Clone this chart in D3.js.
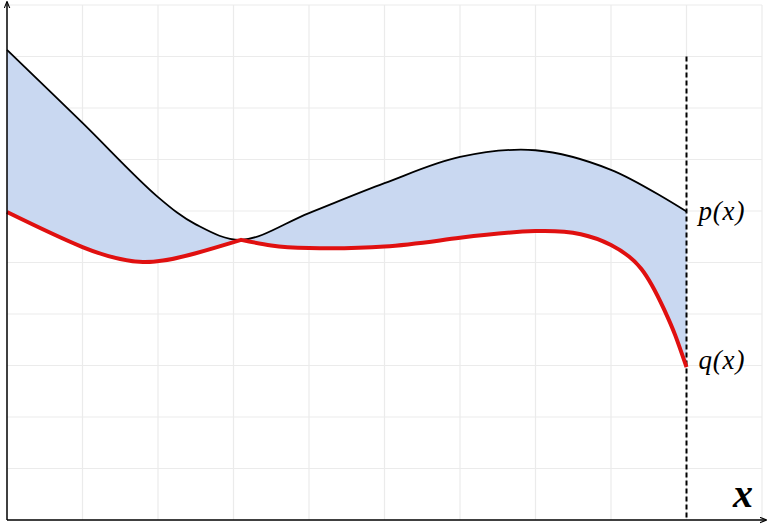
<!DOCTYPE html>
<html>
<head>
<meta charset="utf-8">
<script src="https://cdn.jsdelivr.net/npm/d3@7"></script>
<style>
html,body{margin:0;padding:0;background:#fff;}
svg{display:block;}
</style>
</head>
<body>
<svg id="chart" width="768" height="528"></svg>
<script>
// upper curve p(x): x positions and values (grid units)
const pX      = [0, 1, 2, 2.5, 3.1, 4, 5, 6, 7, 8, 9];
const pValues = [9.13, 7.71, 6.27, 5.74, 5.44, 5.96, 6.54, 7.05, 7.18, 6.80, 5.99];
// lower curve q(x), left piece (up to the crossing) and right piece
const qXLeft      = [0, 1, 1.8, 2.5, 3.1];
const qValuesLeft = [5.98, 5.30, 5.01, 5.18, 5.44];
const qXRight      = [3.1, 3.5, 4, 5, 6, 7, 7.6, 8, 8.4, 8.7, 8.85, 9];
const qValuesRight = [5.44, 5.33, 5.28, 5.31, 5.48, 5.61, 5.55, 5.34, 4.88, 4.10, 3.59, 2.97];
const gridTicks = [1, 2, 3, 4, 5, 6, 7, 8, 9, 10];
const boundaryX = 9;
const boundaryTop = 9;
const labels = ["p(x)", "q(x)", "x"];

const svg = d3.select("#chart");
const x = d3.scaleLinear().domain([0, 10]).range([7, 762]);
const y = d3.scaleLinear().domain([0, 10]).range([520, 5]);

// grid
svg.append("g").selectAll("line").data(gridTicks).join("line")
  .attr("x1", d => x(d)).attr("x2", d => x(d))
  .attr("y1", y(0)).attr("y2", y(10))
  .attr("stroke", "#ebebeb").attr("stroke-width", 1.2);
svg.append("g").selectAll("line").data(gridTicks).join("line")
  .attr("x1", x(0)).attr("x2", x(10))
  .attr("y1", d => y(d)).attr("y2", d => y(d))
  .attr("stroke", "#ebebeb").attr("stroke-width", 1.2);

const pPts = pX.map((v, i) => [v, pValues[i]]);
const qL = qXLeft.map((v, i) => [v, qValuesLeft[i]]);
const qR = qXRight.map((v, i) => [v, qValuesRight[i]]);
const lineP = d3.line().curve(d3.curveCatmullRom.alpha(0.5)).x(d => x(d[0])).y(d => y(d[1]));
const line = d3.line().curve(d3.curveNatural).x(d => x(d[0])).y(d => y(d[1]));

// shaded region between curves
const areaD = lineP(pPts)
  + line(qR.slice().reverse()).replace(/^M/, "L")
  + line(qL.slice().reverse()).replace(/^M/, "L") + "Z";
svg.append("path").attr("d", areaD).attr("fill", "#c9d8f1").attr("stroke", "none");

// dashed boundary
svg.append("line")
  .attr("x1", x(boundaryX)).attr("x2", x(boundaryX))
  .attr("y1", y(boundaryTop)).attr("y2", y(0))
  .attr("stroke", "#000").attr("stroke-width", 2).attr("stroke-dasharray", "5,3");

// p curve
svg.append("path").attr("d", lineP(pPts))
  .attr("fill", "none").attr("stroke", "#000").attr("stroke-width", 1.8);

// q curve
svg.append("path").attr("d", line(qL) + line(qR).replace(/^M/, "L"))
  .attr("fill", "none").attr("stroke", "#e01010").attr("stroke-width", 4)
  .attr("stroke-linejoin", "round");

// axes with arrows
const defs = svg.append("defs");
defs.append("marker").attr("id", "arr").attr("viewBox", "0 0 10 10")
  .attr("refX", 9).attr("refY", 5).attr("markerWidth", 7).attr("markerHeight", 7)
  .attr("markerUnits", "userSpaceOnUse").attr("orient", "auto")
  .append("path").attr("d", "M0,1 L10,5 L0,9").attr("fill", "none").attr("stroke", "#000").attr("stroke-width", 1.5);

svg.append("line").attr("x1", x(0)).attr("x2", x(0)).attr("y1", y(0)).attr("y2", 2)
  .attr("stroke", "#000").attr("stroke-width", 1.5).attr("marker-end", "url(#arr)");
svg.append("line").attr("x1", x(0)).attr("x2", 766).attr("y1", y(0)).attr("y2", y(0))
  .attr("stroke", "#000").attr("stroke-width", 1.5).attr("marker-end", "url(#arr)");

// labels
const serif = "Liberation Serif, DejaVu Serif, serif";
svg.append("text").attr("x", x(boundaryX) + 12).attr("y", 220)
  .attr("font-family", serif).attr("font-style", "italic")
  .attr("font-size", 27).attr("letter-spacing", 0.8).text(labels[0]);
svg.append("text").attr("x", x(boundaryX) + 12).attr("y", 369)
  .attr("font-family", serif).attr("font-style", "italic")
  .attr("font-size", 27).attr("letter-spacing", 0.8).text(labels[1]);
svg.append("text").attr("x", 733).attr("y", 507)
  .attr("font-family", serif).attr("font-style", "italic")
  .attr("font-weight", "bold").attr("font-size", 40).text(labels[2]);
</script>
</body>
</html>
